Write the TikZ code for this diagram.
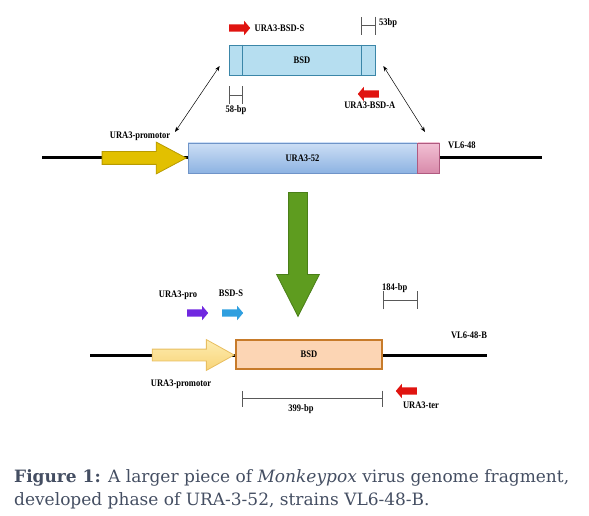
\documentclass[tikz,border=0pt]{standalone}
\usepackage{fontspec}
\setmainfont{Liberation Serif}
\newfontfamily\lblfont[FakeStretch=0.85]{Liberation Serif}
\newfontfamily\capfont{DejaVu Serif}
\usetikzlibrary{positioning,arrows.meta,shapes.arrows}

\definecolor{bsdblue}{RGB}{182,222,240}
\definecolor{bsdedge}{RGB}{59,134,168}
\definecolor{uratop}{RGB}{204,222,245}
\definecolor{urabot}{RGB}{141,179,226}
\definecolor{uraedge}{RGB}{111,148,200}
\definecolor{pinktop}{RGB}{242,192,212}
\definecolor{pinkbot}{RGB}{216,138,170}
\definecolor{pinkedge}{RGB}{176,90,128}
\definecolor{promoyel}{RGB}{226,192,0}
\definecolor{promoedge}{RGB}{184,155,0}
\definecolor{paletop}{RGB}{253,236,176}
\definecolor{palebot}{RGB}{248,212,120}
\definecolor{paleedge}{RGB}{232,190,96}
\definecolor{orfill}{RGB}{252,213,180}
\definecolor{oredge}{RGB}{199,123,42}
\definecolor{stepgreen}{RGB}{94,156,31}
\definecolor{stepedge}{RGB}{74,127,24}
\definecolor{primred}{RGB}{224,20,16}
\definecolor{primpurple}{RGB}{112,40,224}
\definecolor{primblue}{RGB}{47,159,223}
\definecolor{capgrey}{RGB}{68,78,98}

\tikzset{
  lbl/.style={font=\lblfont\bfseries\fontsize{10}{12}\selectfont, inner sep=0pt},
  dna/.style={line width=3pt},
  bpbar/.style={draw=black!65, line width=0.7pt, {Bar[width=18pt]}-{Bar[width=18pt]}},
  primer/.style={single arrow, draw=none, inner xsep=0pt, inner ysep=3.5pt, minimum height=21pt,
    single arrow head extend=3.5pt, single arrow tip angle=100},
  bigarrow/.style={single arrow, inner xsep=0pt, line width=0.8pt},
}

\begin{document}
\begin{tikzpicture}[x=1pt,y=-1pt,>=Stealth]
  \useasboundingbox (0,0) rectangle (589,516);

  % ---- BSD cassette (top)
  \node[draw=bsdedge, fill=bsdblue, line width=0.7pt, minimum width=146pt,
        minimum height=30pt, inner sep=0pt, font=\lblfont\bfseries] (bsdtop) at (302,60) {BSD};
  \draw[bsdedge, line width=0.7pt] ([xshift=14pt]bsdtop.north west) -- ([xshift=14pt]bsdtop.south west);
  \draw[bsdedge, line width=0.7pt] ([xshift=-14pt]bsdtop.north east) -- ([xshift=-14pt]bsdtop.south east);

  \node[primer, fill=primred, anchor=tail] (bsdS) at (229,28) {};
  \node[lbl, right=4pt of bsdS] (bsdSlab) {URA3-BSD-S};
  \node[primer, fill=primred, anchor=tail, shape border rotate=180] (bsdA) at (379,94) {};
  \node[lbl, below=4pt of bsdA] (bsdAlab) {URA3-BSD-A};

  \draw[bpbar] ([xshift=-14pt,yshift=19pt]bsdtop.north east) -- ([yshift=19pt]bsdtop.north east);
  \node[lbl, anchor=west] (bp53) at (379,23) {53bp};
  \draw[bpbar] ([yshift=-20pt]bsdtop.south west) -- ([xshift=14pt,yshift=-20pt]bsdtop.south west);
  \node[lbl] (bp58) at (236,110) {58-bp};

  % ---- URA3 locus (top)
  \coordinate (topL) at (42,158);
  \coordinate (topR) at (542,158);
  \draw[dna] (topL) -- (topR);
  \node[draw=uraedge, top color=uratop, bottom color=urabot, line width=0.7pt,
        minimum width=229pt, minimum height=30pt, inner sep=0pt, font=\lblfont\bfseries] (ura52) at (302.5,158) {URA3-52};
  \node[draw=pinkedge, top color=pinktop, bottom color=pinkbot, line width=0.7pt,
        minimum width=22pt, minimum height=30pt, inner sep=0pt, right=0pt of ura52] (vlend) {};
  \node[bigarrow, draw=promoedge, fill=promoyel, anchor=tip, minimum height=84pt,
        inner ysep=6pt, single arrow head extend=9.5pt, single arrow tip angle=56] (promo) at (187,158) {};
  \node[lbl] (promolab) at (140,136) {URA3-promotor};
  \node[lbl, anchor=west] (vllab) at (448,145) {VL6-48};

  % double arrows to the locus
  \coordinate (ldock) at (175,132);
  \coordinate (rdock) at (425,132);
  \draw[<->, line width=0.5pt] ([xshift=-9pt,yshift=-6pt]bsdtop.west) -- (ldock);
  \draw[<->, line width=0.5pt] ([xshift=8pt,yshift=-6pt]bsdtop.east) -- (rdock);

  % ---- step arrow
  \node[bigarrow, draw=stepedge, fill=stepgreen, anchor=tail, shape border rotate=270,
        minimum height=124pt, inner xsep=9pt, inner ysep=0pt, single arrow head extend=12pt,
        single arrow tip angle=54] (stepdown) at (298,192) {};

  % ---- URA3 locus with BSD (bottom)
  \coordinate (botL) at (90,355);
  \coordinate (botR) at (487,355);
  \draw[dna] (botL) -- (botR);
  \node[draw=oredge, fill=orfill, line width=1.2pt, minimum width=146pt,
        minimum height=29pt, inner sep=0pt, font=\lblfont\bfseries] (bsdbot) at (309,354.5) {BSD};
  \node[bigarrow, draw=paleedge, top color=paletop, bottom color=palebot, anchor=tip,
        minimum height=82pt, inner ysep=5.5pt, single arrow head extend=9.5pt,
        single arrow tip angle=58] (promob) at (235,355) {};
  \node[lbl] (promoblab) at (181,384) {URA3-promotor};
  \node[lbl] (vlblab) at (469,335) {VL6-48-B};

  \node[primer, fill=primpurple, anchor=tail] (uraP) at (187,313) {};
  \node[lbl] (uraPlab) at (178,295) {URA3-pro};
  \node[primer, fill=primblue, anchor=tail] (bsdSb) at (222,313) {};
  \node[lbl] (bsdSblab) at (231,293) {BSD-S};
  \node[primer, fill=primred, anchor=tail, shape border rotate=180] (uraT) at (417,391) {};
  \node[lbl] (uraTlab) at (421,405) {URA3-ter};

  \draw[bpbar] ([yshift=39pt]bsdbot.north east) -- ([xshift=35pt,yshift=39pt]bsdbot.north east);
  \node[lbl, anchor=west] (bp184) at (382,288) {184-bp};
  \draw[bpbar, {Bar[width=16pt]}-{Bar[width=16pt]}] ([xshift=7pt,yshift=-29pt]bsdbot.south west) -- ([yshift=-29pt]bsdbot.south east);
  \node[lbl] (bp399) at (301,409) {399-bp};

  % ---- caption
  \node[anchor=north west, inner sep=0pt, text width=555pt, align=justify, text=capgrey,
        font=\capfont\fontsize{17}{23}\selectfont] (caption) at (14,469)
    {\textbf{Figure 1:} A larger piece of \textit{Monkeypox} virus genome fragment,\linebreak
     developed phase of URA-3-52, strains VL6-48-B.};
\end{tikzpicture}
\end{document}
